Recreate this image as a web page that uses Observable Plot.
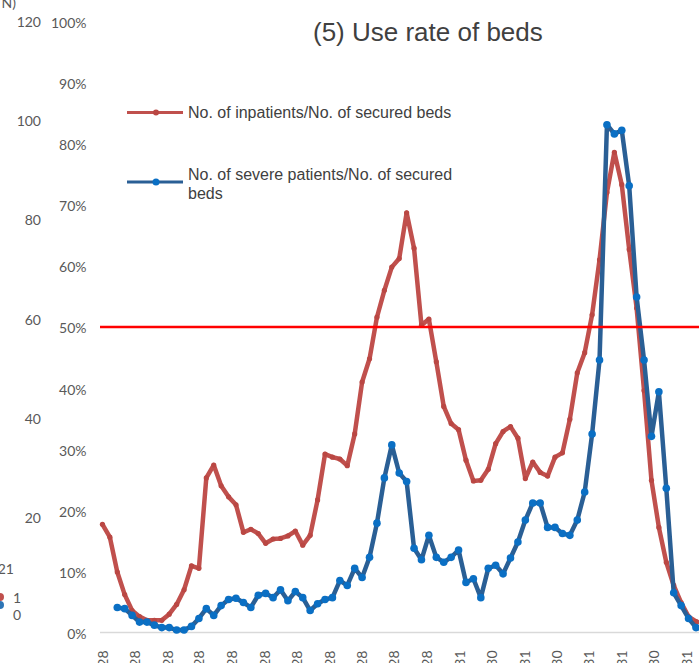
<!DOCTYPE html>
<html><head><meta charset="utf-8">
<script src="https://cdn.jsdelivr.net/npm/d3@7"></script>
<script src="https://cdn.jsdelivr.net/npm/@observablehq/plot@0.6"></script>
<style>
html,body{margin:0;padding:0;background:#fff;overflow:hidden}
#wrap{position:relative;width:699px;height:663px;overflow:hidden}
#wrap svg{position:absolute;left:0;top:0}
</style></head>
<body><div id="wrap"></div>
<script>
// ---- data (percent, weekly points) ----
const startDate = "2020-04-27";
const inpatientRate = [17.7,15.6,9.9,6.2,3.6,2.6,2.0,2.0,2.0,3.0,4.6,7.0,10.9,10.5,25.3,27.4,24.0,22.2,20.9,16.4,
  16.9,16.2,14.6,15.3,15.4,15.8,16.6,14.3,15.9,21.7,29.2,28.7,28.4,27.3,32.5,41.0,44.8,51.6,56.0,59.8,
  61.2,68.7,62.9,50.3,51.3,44.3,37.0,34.2,33.2,28.2,24.8,24.9,26.7,30.9,32.9,33.7,31.8,25.2,27.9,26.2,
  25.6,28.7,29.4,34.9,42.5,45.8,52.0,61.0,72.0,78.6,73.3,62.7,53.1,39.6,24.9,17.2,11.5,7.7,4.9,2.6,1.8,1.5];
const severeRate = [null,null,4.1,3.9,2.8,1.7,1.7,1.2,0.8,0.8,0.4,0.4,1.0,2.3,3.9,2.8,4.4,5.4,5.6,4.9,
  4.1,6.1,6.4,5.7,7.0,5.2,6.7,5.7,3.6,4.7,5.4,5.7,8.5,7.7,10.5,9.0,12.3,17.9,25.3,30.7,
  26.1,24.7,13.8,11.9,15.9,12.3,11.5,12.3,13.5,8.2,8.8,5.7,10.5,11.0,9.6,12.2,14.8,18.4,21.2,21.2,
  17.2,17.2,16.2,15.9,18.4,23.0,32.5,44.6,83.1,81.6,82.2,73.1,54.9,44.6,32.1,39.4,23.6,6.5,4.4,2.3,0.8,0.6];
const tickLabels = ["2020/4/28","2020/5/28","2020/6/28","2020/7/28","2020/8/28","2020/9/28","2020/10/28",
  "2020/11/28","2020/12/28","2021/1/28","2021/2/28","2021/3/31","2021/4/30","2021/5/31","2021/6/30",
  "2021/7/31","2021/8/31","2021/9/30","2021/10/31"];
const yTicks = [0,10,20,30,40,50,60,70,80,90,100];
const threshold = 50;
const title = "(5) Use rate of beds";
const seriesNames = ["No. of inpatients/No. of secured beds", "No. of severe patients/No. of secured", "beds"];
// fragments of the neighbouring chart on the left
const leftAxisLabels = ["120","100","80","60","40","20"];
const leftFragments = ["N)","21","1","0"];

const colRed = "#C0504D", colRedDot = "#BA4743", colBlue = "#2A5F95", colBlueDot = "#0A6FC4";

const t0 = d3.utcParse("%Y-%m-%d")(startDate);
const rows = inpatientRate.map((v, i) => ({date: d3.utcDay.offset(t0, 7 * i), inp: v, sev: severeRate[i]}));
const parseTick = d3.utcParse("%Y/%m/%d");
const tickDates = tickLabels.map(parseTick);
const fmt = d3.utcFormat("%Y/%-m/%-d");

const chart = Plot.plot({
  width: 699, height: 663,
  marginLeft: 100, marginRight: 0, marginTop: 21, marginBottom: 31,
  style: {fontFamily: "Lato, sans-serif", fontSize: "14px", color: "#595959", background: "transparent", overflow: "visible"},
  x: {type: "utc", domain: [tickDates[0], tickDates[tickDates.length - 1]], range: [103, 687]},
  y: {domain: [0, 100]},
  marks: [
    Plot.axisY({ticks: yTicks, tickFormat: d => d + "%", tickSize: 0, tickPadding: 14, fontSize: 14, dy: 2}),
    Plot.axisX({ticks: tickDates, tickFormat: fmt, tickRotate: -90, tickSize: 0, tickPadding: 18, fontSize: 14}),
    Plot.ruleY([0], {stroke: "#D9D9D9", strokeWidth: 1.5}),
    Plot.line(rows, {x: "date", y: "inp", stroke: colRed, strokeWidth: 4.5, strokeLinejoin: "round"}),
    Plot.dot(rows, {x: "date", y: "inp", r: 2.6, fill: colRedDot}),
    Plot.line(rows, {x: "date", y: "sev", stroke: colBlue, strokeWidth: 4.5, strokeLinejoin: "round"}),
    Plot.dot(rows, {x: "date", y: "sev", r: 3.8, fill: colBlueDot}),
    Plot.ruleY([threshold], {stroke: "#FF0000", strokeWidth: 2.5})
  ]
});
const wrap = document.getElementById("wrap");
wrap.append(chart);

// overlay: title, legend, left fragments
const ov = d3.select(wrap).append("svg").attr("width", 699).attr("height", 663);
ov.append("text").attr("x", 313).attr("y", 32).attr("dominant-baseline", "central")
  .attr("font-family", "'Liberation Sans', Arial, sans-serif").attr("font-size", 26).attr("fill", "#404040").text(title);

const leg = ov.append("g").attr("font-family", "'Liberation Sans', Arial, sans-serif").attr("font-size", 16).attr("fill", "#404040");
leg.append("line").attr("x1", 127).attr("x2", 183).attr("y1", 112.5).attr("y2", 112.5).attr("stroke", colRed).attr("stroke-width", 3);
leg.append("circle").attr("cx", 156).attr("cy", 112.5).attr("r", 3).attr("fill", colRedDot);
leg.append("text").attr("x", 188).attr("y", 112).attr("dominant-baseline", "central").text(seriesNames[0]);
leg.append("line").attr("x1", 127).attr("x2", 183).attr("y1", 182).attr("y2", 182).attr("stroke", colBlue).attr("stroke-width", 3);
leg.append("circle").attr("cx", 156).attr("cy", 182).attr("r", 3.5).attr("fill", colBlueDot);
leg.append("text").attr("x", 188).attr("y", 174).attr("dominant-baseline", "central").text(seriesNames[1]);
leg.append("text").attr("x", 188).attr("y", 193).attr("dominant-baseline", "central").text(seriesNames[2]);

const lf = ov.append("g").attr("font-family", "Lato, sans-serif").attr("font-size", 14).attr("fill", "#595959");
const leftY = [21, 120, 219, 319, 418, 517];
leftAxisLabels.forEach((s, i) => lf.append("text").attr("x", 41).attr("y", leftY[i]).attr("text-anchor", "end").attr("dominant-baseline", "central").text(s));
lf.append("text").attr("x", 16).attr("y", 2).attr("text-anchor", "end").attr("dominant-baseline", "central").text(leftFragments[0]);
lf.append("text").attr("x", 14).attr("y", 568).attr("text-anchor", "end").attr("dominant-baseline", "central").text(leftFragments[1]);
lf.append("text").attr("x", 13).attr("y", 597).attr("dominant-baseline", "central").text(leftFragments[2]);
lf.append("text").attr("x", 13).attr("y", 614).attr("dominant-baseline", "central").text(leftFragments[3]);
ov.append("circle").attr("cx", 0).attr("cy", 597).attr("r", 4).attr("fill", colRed);
ov.append("circle").attr("cx", 0).attr("cy", 605).attr("r", 4).attr("fill", "#2E75B6");
</script>
</body></html>
